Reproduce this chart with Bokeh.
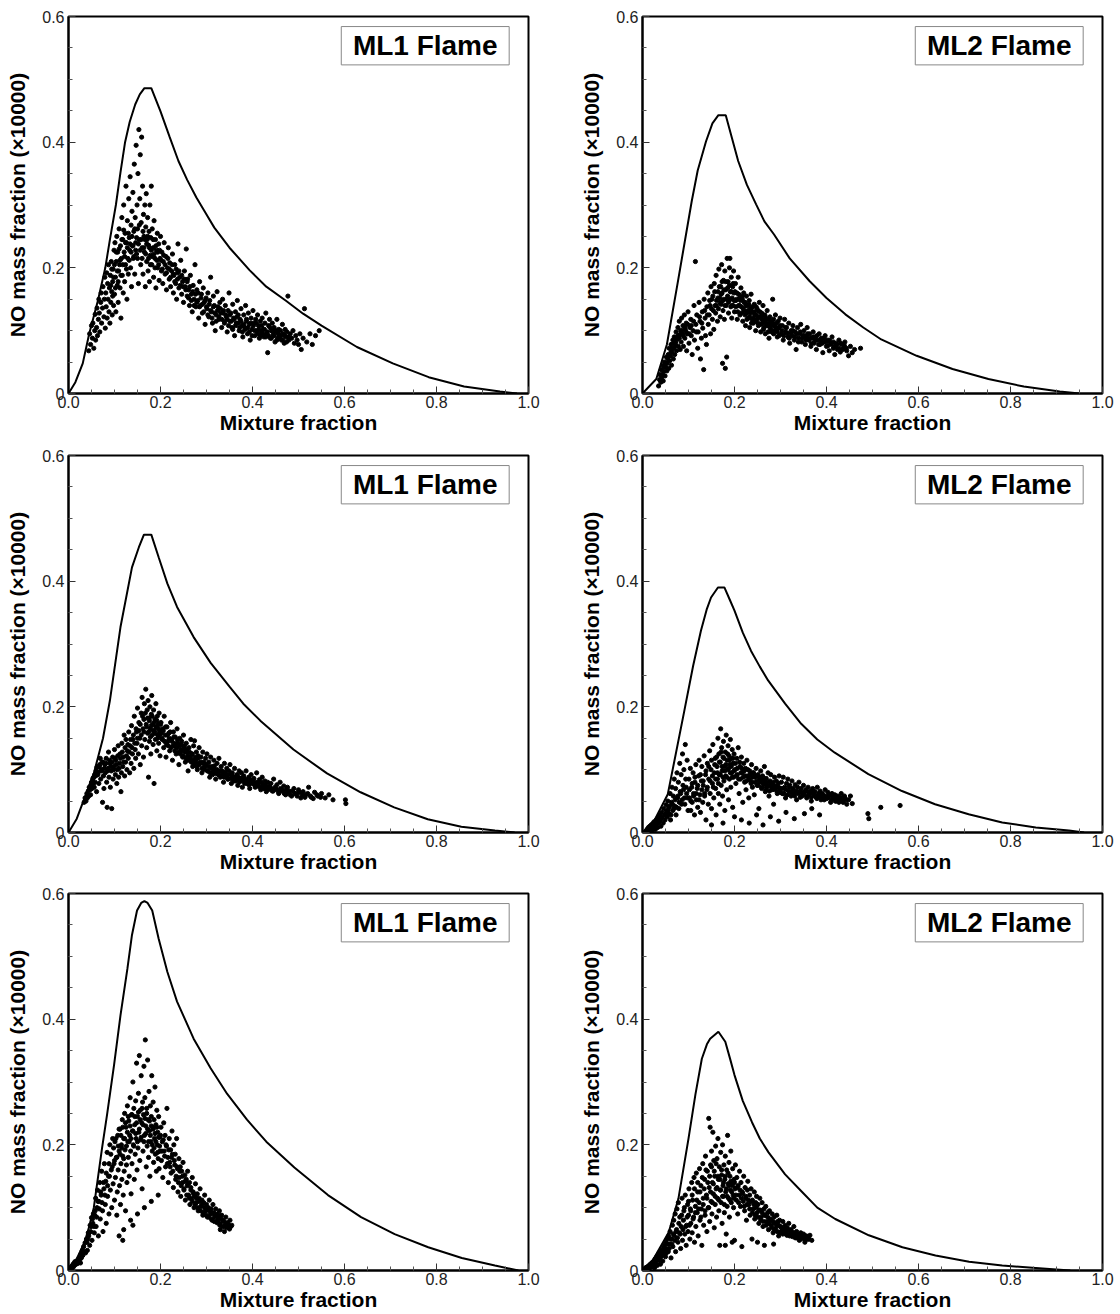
from bokeh.plotting import figure
from bokeh.layouts import column, row
from bokeh.models import Range1d, FixedTicker, BoxAnnotation, Label
from bokeh.embed import file_html
from bokeh.resources import INLINE

FONT = "Liberation Sans"

X_TICKS = [0.0, 0.2, 0.4, 0.6, 0.8, 1.0]
X_TICK_LABELS = ["0.0", "0.2", "0.4", "0.6", "0.8", "1.0"]
X_MINOR = [0.05, 0.1, 0.15, 0.25, 0.3, 0.35, 0.45, 0.5, 0.55, 0.65, 0.7, 0.75, 0.85, 0.9, 0.95]
Y_TICKS = [0.0, 0.2, 0.4, 0.6]
Y_TICK_LABELS = ["0", "0.2", "0.4", "0.6"]
Y_MINOR = [0.05, 0.1, 0.15, 0.25, 0.3, 0.35, 0.45, 0.5, 0.55]

X_LABEL = "Mixture fraction"
Y_LABEL = "NO mass fraction (\u00d710000)"

# ---------------- Row 1, left: ML1 Flame ----------------
curve1_z = [0, 0.015, 0.031, 0.045, 0.064, 0.08, 0.09, 0.103, 0.113, 0.123, 0.133, 0.145, 0.155, 0.165, 0.18,
            0.2, 0.22, 0.239, 0.258, 0.278, 0.3, 0.317, 0.35, 0.394, 0.43, 0.472, 0.51, 0.55, 0.627, 0.705,
            0.783, 0.86, 0.938, 0.975]
curve1_no = [0, 0.018, 0.048, 0.095, 0.148, 0.2, 0.245, 0.3, 0.352, 0.4, 0.432, 0.46, 0.476, 0.486, 0.486,
             0.449, 0.408, 0.37, 0.34, 0.312, 0.285, 0.264, 0.232, 0.196, 0.17, 0.148, 0.127, 0.108, 0.074, 0.048,
             0.026, 0.011, 0.003, 0.0]
# scatter (mixture fraction, NO) in thousandths
scatter1 = [
    (44,68),(46,95),(48,78),(50,108),(52,88),(53,112),(55,72),(57,100),(58,126),(59,85),
    (61,105),(62,136),(63,92),(65,118),(66,150),(67,128),(68,98),(70,145),(71,160),(72,112),(74,136),(75,170),(77,122),(78,150),(79,185),
    (80,104),(81,160),(82,138),(83,192),(84,120),(85,175),(86,150),(87,205),(88,130),(89,168),(90,112),(91,188),(92,145),(93,210),(94,162),(95,125),(96,178),(97,198),(98,140),(99,228),
    (100,158),(101,240),(102,185),(103,130),(104,210),(105,250),(106,172),(107,225),(108,145),(109,195),(110,262),(111,205),(112,168),(113,235),(114,120),(115,215),(116,280),(117,188),(118,245),(119,160),
    (120,300),(121,225),(122,178),(123,255),(124,205),(125,330),(126,240),(127,150),(128,275),(129,215),(130,190),(131,310),(132,248),(133,228),(134,345),(135,200),(136,268),(137,170),(138,290),(139,235),
    (140,320),(141,215),(142,258),(143,365),(144,190),(145,280),(146,240),(147,395),(148,222),(149,300),(150,262),(151,350),(152,175),(153,420),(154,245),(155,310),(156,380),(157,205),(158,272),(159,408),(160,232),
    (161,330),(162,190),(163,285),(164,250),(165,225),(166,300),(167,170),(168,265),(169,318),(170,210),(171,245),(172,280),(173,195),(174,236),(175,258),(176,178),(177,300),(178,220),(179,248),
    (180,330),(181,205),(182,262),(184,232),(185,185),(186,275),(188,215),(189,245),(190,168),(191,228),(193,255),(194,200),(196,238),(197,180),(199,215),
    (200,250),(202,195),(203,225),(205,175),(206,210),(208,240),(210,190),(212,218),(213,165),(215,200),(217,232),(219,182),(220,208),(222,170),(224,195),(226,222),(228,160),(229,188),
    (231,205),(233,175),(235,150),(237,192),(238,238),(240,168),(242,185),(244,212),(246,158),(248,178),(250,145),(252,195),(254,170),(256,230),(258,155),(259,182),
    (261,165),(263,140),(265,188),(267,158),(269,130),(271,172),(273,150),(275,205),(277,138),(279,165),(281,148),(283,120),(285,178),(287,140),(289,158),(291,128),(293,168),(295,145),(297,110),(299,152),
    (301,135),(303,160),(305,122),(307,148),(309,185),(311,130),(313,112),(315,155),(317,140),(319,100),(321,125),(323,162),(325,138),(327,118),(329,145),(331,128),(333,105),(335,150),(337,132),(339,115),
    (341,140),(343,122),(345,98),(347,132),(349,160),(351,115),(353,128),(355,105),(357,142),(359,120),(361,92),(363,130),(365,112),(367,148),(369,125),(371,100),(373,118),(375,135),(377,108),(379,90),
    (381,125),(383,105),(385,140),(387,115),(389,95),(391,128),(393,110),(395,85),(397,120),(399,102),(401,132),(403,112),(405,92),(407,118),(409,100),(411,125),(413,108),(415,88),(417,115),(419,98),
    (421,120),(423,102),(425,90),(427,112),(429,128),(431,95),(433,65),(435,108),(437,118),(439,88),(441,100),(443,112),(445,92),(447,105),(449,82),(451,98),(453,118),(455,88),(457,102),(459,92),
    (461,100),(463,85),(465,110),(467,95),(469,80),(471,102),(473,90),(475,98),(477,155),(479,85),(482,95),(485,88),(488,100),(491,80),(494,92),(497,85),(500,78),(503,95),(506,70),(510,88),(513,135),(518,82),(525,95),(530,78),(537,92),(545,100),
]
scatter1_core = [
    (92,172),(94,198),(96,155),(98,185),(100,205),(102,168),(104,225),(106,195),(108,178),(110,230),(112,212),(114,188),(116,245),(118,205),(120,260),(122,218),(124,240),(126,198),(128,232),(130,255),(132,212),(134,238),(136,225),(138,250),(140,235),(142,218),(144,262),(146,228),(148,248),(150,215),(152,238),(154,268),(156,228),(158,245),(160,215),(162,258),(164,232),(166,245),(168,222),(170,238),(172,250),(174,215),(176,232),(178,205),(180,228),(182,218),(184,245),(186,222),(188,200),(190,235),(192,212),(194,225),(196,205),(198,228),
    (201,212),(204,198),(207,220),(210,205),(213,192),(216,215),(219,198),(222,185),(225,205),(228,190),(231,178),(234,198),(237,182),(240,195),(243,172),(246,188),(249,170),(252,182),(255,165),(258,178),(261,152),(264,170),(267,148),(270,162),(273,140),(276,158),(279,145),(282,160),(285,138),(288,152),(291,142),(294,130),(297,148),(300,138),(303,125),(306,142),(309,132),(312,120),(315,138),(318,128),(321,115),(324,132),(327,122),(330,135),(333,118),(336,128),(339,112),(342,125),(345,118),(348,108),(351,125),(354,115),(357,102),(360,118),(363,108),(366,122),(369,112),(372,105),(375,115),(378,98),(381,110),(384,102),(387,118),(390,105),(393,98),(396,112),(399,92),(402,108),(405,100),(408,112),(411,95),(414,102),(417,92),(420,108),(423,95),(426,102),(429,90),(432,98),(435,92),(438,105),(441,88),(444,98),(447,92),(450,100),(453,85),(456,95),(459,88),(462,92),(466,85),(470,92),(474,82),(478,90),
]

# ---------------- Row 1, right: ML2 Flame ----------------
curve2_z = [0, 0.03, 0.053, 0.076, 0.107, 0.12, 0.138, 0.152, 0.165, 0.181, 0.195, 0.208, 0.227, 0.247, 0.265,
            0.286, 0.32, 0.363, 0.4, 0.441, 0.48, 0.519, 0.596, 0.674, 0.752, 0.829, 0.907, 0.95]
curve2_no = [0, 0.023, 0.078, 0.174, 0.306, 0.355, 0.401, 0.43, 0.443, 0.443, 0.405, 0.37, 0.332, 0.301, 0.274,
             0.253, 0.215, 0.179, 0.152, 0.126, 0.105, 0.086, 0.06, 0.039, 0.023, 0.011, 0.003, 0.0]
scatter2 = [
    (35,12),(37,22),(38,30),(40,18),(41,38),(42,26),(44,45),(45,20),(46,35),(48,50),(49,28),(50,42),(52,58),(53,36),(54,48),(56,62),(57,40),(58,72),(59,52),(61,60),(62,78),(63,45),(64,66),(66,85),(67,55),(68,72),(69,90),(70,62),(72,80),(73,98),(74,68),(75,88),(77,105),(78,75),(79,92),(80,115),(82,70),(83,100),(84,82),(85,120),(87,95),(88,108),(89,75),(91,125),(92,88),(93,102),(95,112),(96,68),(98,95),(99,130),
    (101,80),(103,105),(105,118),(106,92),(108,62),(110,100),(112,140),(113,85),(115,210),(116,110),(118,125),(120,72),(121,98),(123,145),(125,115),(126,55),(128,88),(130,130),(131,104),(133,38),(134,150),(136,120),(137,92),(139,78),(140,138),(142,160),(143,110),(145,125),(146,148),(148,95),(149,170),(150,135),(152,118),(153,155),(155,102),(156,175),(158,140),(159,128),(160,188),(161,148),(163,115),(164,162),(165,135),(166,198),(168,152),(169,122),(170,170),(171,142),(172,205),(173,160),(174,48),(175,132),(176,180),(177,150),(178,118),(179,195),(180,40),(181,165),(182,140),(183,58),(184,215),(185,155),(186,178),(187,128),(188,148),(189,200),(190,215),(191,162),(192,138),(193,185),(194,120),(195,152),(196,170),(197,140),(198,195),(199,160),
    (200,130),(202,175),(203,148),(205,160),(206,118),(208,185),(209,140),(211,152),(212,125),(214,168),(215,138),(217,150),(218,115),(220,160),(221,132),(223,145),(224,108),(226,155),(227,128),(229,140),(230,120),(232,148),(233,105),(235,135),(236,158),(238,118),(239,130),(241,112),(243,142),(244,125),(246,100),(247,138),(249,118),(251,132),(252,108),(254,145),(256,122),(257,98),(259,128),(261,112),(262,140),(264,105),(266,125),(267,95),(269,118),(271,132),(273,108),(275,88),(277,122),(279,102),(281,115),(283,150),(285,95),(287,110),(289,125),(291,100),(293,90),(295,115),(297,105),(299,120),
    (302,95),(304,108),(306,85),(309,118),(311,98),(313,105),(316,90),(318,112),(320,80),(323,100),(325,92),(327,108),(330,85),(332,98),(334,70),(337,105),(339,88),(342,95),(344,110),(346,82),(349,92),(351,100),(354,78),(356,90),(358,105),(361,85),(363,95),(366,75),(368,88),(371,98),(373,80),(376,90),(378,70),(381,85),(384,95),(386,78),(389,88),(392,65),(394,82),(397,92),(400,75),(403,85),(406,68),(409,80),(412,90),(415,72),(418,62),(421,80),(424,70),(427,85),(430,66),(433,78),(437,72),(440,82),(444,68),(448,60),(452,75),(456,65),(461,70),(474,72),
]
scatter2_core = [
    (43,30),(47,42),(51,48),(55,55),(58,60),(62,66),(65,72),(68,80),(71,76),(74,85),(77,92),(80,88),(83,95),(86,100),(89,92),(92,105),(95,98),(98,110),(102,95),(106,108),(111,115),(117,98),(124,122),(129,112),(135,132),(141,125),(147,140),(151,150),(154,132),(157,162),(161,140),(164,152),(167,170),(169,145),(171,158),(173,178),(175,148),(177,165),(179,140),(181,178),(183,150),(185,168),(187,145),(189,172),(191,150),(193,162),(195,140),(197,175),(199,148),(201,162),(203,138),(205,150),(207,130),(209,158),(211,140),(213,148),(215,128),(217,155),(219,135),(221,145),(223,125),(225,140),(227,118),(229,132),(231,142),(233,122),(235,128),(237,112),(239,138),(241,120),(243,130),(245,115),(247,125),(249,135),(251,112),(253,122),(255,130),(257,110),(259,118),(261,125),(263,102),(265,115),(267,122),(269,108),(271,112),(273,98),(275,118),(277,105),(279,112),(281,98),(283,108),(285,118),(287,100),(289,106),(291,112),(293,98),(295,104),(297,92),(299,108),(303,100),(307,92),(311,105),(315,96),(319,88),(323,95),(327,100),(331,90),(335,95),(339,82),(343,98),(347,88),(351,92),(355,85),(359,95),(363,88),(367,80),(371,90),(375,84),(379,92),(383,78),(387,85),(391,80),(395,88),(399,82),(403,76),(407,84),(411,78),(415,82),(419,75),(423,78),(427,72),(431,80),(435,70),(439,76),(443,72),
]

# ---------------- Row 2, left: ML1 Flame ----------------
curve3_z = [0, 0.018, 0.035, 0.055, 0.075, 0.09, 0.113, 0.138, 0.153, 0.164, 0.18, 0.196, 0.215, 0.236, 0.272,
            0.309, 0.35, 0.38, 0.417, 0.489, 0.562, 0.635, 0.708, 0.781, 0.854, 0.927, 0.97]
curve3_no = [0, 0.022, 0.055, 0.094, 0.15, 0.21, 0.327, 0.422, 0.454, 0.474, 0.474, 0.438, 0.396, 0.359, 0.311,
             0.27, 0.232, 0.205, 0.178, 0.132, 0.094, 0.064, 0.04, 0.021, 0.009, 0.003, 0.0]
scatter3 = [
    (34,48),(36,55),(38,50),(40,62),(41,55),(43,66),(44,58),(45,72),(47,68),(48,60),(50,80),(51,70),(53,86),(54,78),(56,72),(57,92),(58,80),(60,98),(61,65),(63,105),(64,92),(66,78),(67,105),(69,118),(70,85),(72,98),(73,112),(74,48),(76,90),(77,70),(79,108),(80,95),(82,118),(83,80),(84,40),(86,102),(87,128),(88,88),(90,110),(91,72),(93,98),(94,38),(96,120),(97,85),(99,105),
    (100,132),(102,92),(103,115),(105,78),(106,100),(108,138),(109,88),(111,110),(112,125),(114,65),(115,95),(116,142),(118,105),(119,120),(121,155),(122,90),(124,112),(125,148),(127,100),(128,130),(130,118),(131,160),(133,95),(134,138),(136,110),(137,170),(139,125),(140,148),(142,102),(143,185),(145,132),(146,118),(148,160),(149,142),(150,198),(152,125),(153,175),(155,150),(156,108),(158,190),(159,138),(160,215),(162,165),(163,120),(164,180),(165,205),(166,148),(168,228),(169,172),(170,135),(171,195),(172,158),(173,210),(174,88),(175,182),(176,145),(177,200),(178,165),(179,125),(180,188),(181,218),(182,155),(183,172),(184,140),(185,195),(186,78),(187,162),(188,180),(189,148),(190,205),(191,168),(192,130),(193,185),(194,155),(195,172),(196,142),(197,190),(198,160),(199,122),
    (201,175),(203,150),(205,165),(207,135),(208,185),(210,155),(212,120),(214,168),(216,145),(218,158),(220,130),(222,175),(224,148),(226,115),(228,160),(230,138),(232,152),(234,125),(236,165),(238,142),(240,108),(242,150),(244,132),(246,145),(248,120),(250,155),(252,138),(254,112),(256,142),(258,128),(260,98),(262,135),(264,118),(266,148),(268,125),(270,105),(272,138),(274,146),(276,115),(278,128),(280,100),(282,122),(284,135),(286,110),(288,120),(290,95),(292,128),(294,112),(296,105),(298,118),
    (301,125),(303,98),(305,112),(307,88),(309,120),(311,105),(313,92),(316,115),(318,100),(320,85),(323,110),(325,95),(327,118),(330,88),(332,105),(334,98),(337,80),(339,110),(342,92),(344,102),(346,85),(349,98),(351,108),(354,78),(356,95),(358,88),(361,102),(363,82),(366,92),(368,75),(371,98),(373,86),(376,95),(378,72),(381,90),(384,82),(386,98),(389,78),(392,88),(394,70),(397,92),(400,80),(403,86),(406,72),(409,95),(412,78),(415,84),(418,68),(421,88),(424,76),(427,82),(430,65),(433,80),(436,72),(440,78),(443,66),(446,85),(450,70),(453,76),(457,62),(460,80),(464,68),(468,74),(472,60),(476,72),(480,66),(485,58),(490,70),(495,62),(500,68),(505,55),(510,65),(516,60),(522,72),(528,56),(535,64),(542,58),(550,62),(558,55),(566,60),(575,52),(602,52),(603,46),
]
scatter3_core = [
    (46,70),(49,76),(52,82),(55,88),(59,90),(62,104),(65,96),(68,108),(71,100),(75,112),(78,102),(81,110),(85,98),(89,115),(92,105),(95,112),(98,100),(101,118),(104,108),(107,122),(110,102),(113,118),(117,128),(120,112),(123,135),(126,122),(129,140),(132,128),(135,148),(138,135),(141,155),(144,142),(147,165),(150,150),(153,162),(156,172),(158,155),(161,185),(164,160),(167,190),(170,168),(172,182),(174,160),(176,178),(178,152),(180,170),(182,185),(184,162),(186,175),(188,158),(190,168),(192,178),(194,150),(196,165),(198,155),(200,172),(202,158),(204,148),(206,162),(209,145),(211,168),(213,140),(215,155),(217,138),(219,150),(221,160),(223,135),(225,145),(227,138),(229,152),(231,130),(233,142),(235,135),(237,148),(239,128),(241,138),(243,125),(245,140),(247,130),(249,122),(251,135),(253,128),(255,118),(257,132),(259,122),(261,115),(263,128),(265,120),(267,112),(269,125),(271,115),(273,108),(275,120),(277,112),(279,105),(281,118),(284,108),(287,112),(290,102),(293,110),(296,100),(299,108),(302,98),(305,105),(308,95),(311,102),(314,96),(317,106),(320,94),(323,100),(326,92),(329,98),(332,90),(335,95),(338,88),(341,96),(344,90),(347,85),(350,92),(353,86),(356,90),(359,82),(362,88),(365,84),(368,90),(371,80),(374,86),(377,82),(380,88),(383,78),(386,84),(389,80),(392,76),(395,84),(398,78),(401,82),(404,76),(407,80),(410,74),(413,78),(416,72),(419,80),(422,74),(425,70),(428,76),(431,72),(434,68),(437,74),(441,70),(445,66),(449,72),(453,68),(457,64),(461,70),(465,66),(469,62),(473,68),(477,64),(482,60),(487,66),(492,62),(497,58),(502,64),(508,60),(514,56),(520,62),(526,58),(532,54),(540,60),(548,56),
]

# ---------------- Row 2, right: ML2 Flame ----------------
curve4_z = [0, 0.025, 0.055, 0.091, 0.11, 0.127, 0.14, 0.149, 0.164, 0.178, 0.19, 0.2, 0.218, 0.236, 0.255,
            0.273, 0.31, 0.345, 0.38, 0.418, 0.491, 0.564, 0.636, 0.709, 0.782, 0.855, 0.927, 0.96]
curve4_no = [0, 0.018, 0.061, 0.194, 0.265, 0.321, 0.356, 0.374, 0.39, 0.39, 0.37, 0.353, 0.318, 0.289, 0.264,
             0.242, 0.205, 0.173, 0.148, 0.127, 0.093, 0.066, 0.045, 0.029, 0.016, 0.008, 0.003, 0.0]
scatter4 = [
    (8,2),(10,5),(12,3),(13,8),(15,4),(16,10),(18,6),(19,12),(21,3),(22,14),(24,8),(25,17),(27,11),(28,5),(30,20),(31,14),(33,8),(34,24),(36,16),(37,28),(39,20),(40,10),(42,32),(43,24),(45,15),(46,38),(48,28),(49,20),(51,44),(52,34),(54,25),(55,50),(57,40),(58,30),(60,62),(61,20),(63,48),(64,72),(66,35),(67,58),(69,85),(70,42),(72,70),(73,28),(75,95),(76,55),(78,80),(79,38),(81,110),(82,65),(84,92),(85,45),(87,125),(88,75),(90,100),(91,55),(93,140),(94,85),(96,62),(97,115),(99,35),
    (101,85),(102,55),(104,102),(105,35),(107,72),(108,48),(110,95),(111,62),(113,28),(114,80),(116,108),(117,52),(119,70),(120,40),(122,90),(123,115),(125,60),(126,32),(128,82),(129,105),(131,48),(132,75),(134,122),(135,58),(137,92),(138,20),(140,68),(141,110),(143,45),(144,85),(146,130),(147,62),(149,100),(150,38),(152,78),(153,140),(155,55),(156,95),(158,118),(159,70),(160,28),(162,105),(163,85),(164,150),(165,62),(166,125),(167,92),(168,45),(169,112),(170,165),(171,75),(172,135),(173,98),(174,58),(175,120),(176,145),(177,82),(178,105),(179,35),(180,128),(181,90),(182,155),(183,68),(184,115),(185,100),(186,138),(187,52),(188,122),(189,85),(190,108),(191,148),(192,72),(193,118),(194,95),(195,132),(196,40),(197,110),(198,88),(199,125),
    (201,100),(203,78),(205,118),(206,92),(208,135),(210,62),(212,105),(213,85),(215,120),(217,95),(218,48),(220,110),(222,80),(224,102),(225,68),(227,115),(229,90),(231,55),(233,98),(235,82),(237,108),(239,72),(241,95),(243,60),(245,88),(247,102),(249,75),(251,92),(253,38),(255,85),(257,98),(259,70),(261,90),(263,78),(265,105),(267,65),(269,86),(271,74),(273,95),(275,58),(277,82),(279,92),(281,68),(283,80),(285,45),(287,88),(289,72),(291,82),(293,62),(295,78),(297,90),(299,70),
    (302,80),(304,62),(306,88),(309,72),(311,55),(313,78),(316,85),(318,66),(320,75),(323,58),(325,82),(327,70),(330,62),(332,76),(335,52),(337,72),(340,80),(342,65),(345,70),(347,58),(350,75),(352,64),(355,68),(357,55),(360,72),(362,62),(365,66),(367,50),(370,70),(372,60),(375,65),(378,56),(380,72),(383,60),(386,66),(388,52),(391,62),(394,58),(397,68),(400,54),(403,64),(406,58),(409,48),(412,62),(415,55),(418,60),(421,50),(424,58),(428,52),(432,62),(436,48),(440,55),(444,45),(448,52),(452,58),(456,46),(490,30),(492,22),(518,40),(560,43),
    (150,12),(175,15),(200,25),(215,20),(232,15),(248,28),(262,12),(278,25),(296,18),(312,32),(330,22),(352,30),(368,38),(385,28),
]
scatter4_core = [
    (52,30),(56,36),(59,42),(62,28),(65,45),(68,38),(71,52),(74,40),(77,58),(80,48),(83,62),(86,52),(89,68),(92,45),(95,72),(98,55),(102,68),(105,50),(108,78),(111,58),(114,88),(117,62),(120,75),(123,52),(126,92),(129,68),(132,82),(135,62),(138,98),(141,72),(144,105),(147,82),(150,115),(152,90),(154,72),(157,108),(159,85),(161,120),(163,95),(165,78),(167,112),(169,92),(171,128),(173,105),(175,88),(177,118),(179,98),(181,108),(183,88),(185,125),(187,102),(189,115),(191,95),(193,105),(195,88),(197,118),(199,98),(202,110),(204,90),(206,102),(209,85),(211,112),(214,95),(216,102),(219,88),(221,98),(224,90),(226,82),(229,100),(231,85),(234,92),(236,78),(239,88),(241,95),(244,80),(246,90),(249,82),(251,75),(254,88),(256,80),(259,72),(261,84),(264,76),(266,82),(269,70),(271,80),(274,74),(276,66),(279,78),(281,72),(284,76),(287,68),(290,74),(293,66),(296,72),(299,64),(303,70),(307,62),(311,68),(315,60),(319,72),(323,64),(327,68),(331,58),(335,66),(339,62),(343,56),(347,64),(351,60),(355,66),(359,58),(363,62),(367,56),(371,64),(375,58),(379,54),(383,62),(387,56),(391,60),(395,52),(399,58),(403,55),(407,60),(411,52),(415,57),(419,50),(423,56),(427,48),(431,55),(435,50),(439,58),(443,52),
]

# ---------------- Row 3, left: ML1 Flame ----------------
curve5_z = [0, 0.018, 0.035, 0.045, 0.055, 0.073, 0.084, 0.099, 0.113, 0.128, 0.138, 0.149, 0.158, 0.165, 0.172,
            0.182, 0.196, 0.215, 0.236, 0.272, 0.309, 0.345, 0.388, 0.43, 0.491, 0.564, 0.636, 0.709, 0.782,
            0.855, 0.927, 0.978]
curve5_no = [0, 0.019, 0.045, 0.07, 0.1, 0.195, 0.249, 0.327, 0.406, 0.48, 0.534, 0.573, 0.585, 0.588, 0.585,
             0.573, 0.528, 0.475, 0.428, 0.369, 0.322, 0.281, 0.24, 0.205, 0.164, 0.12, 0.085, 0.058, 0.037,
             0.02, 0.008, 0.0]
scatter5 = [
    (3,2),(5,5),(7,3),(8,8),(10,5),(11,11),(13,8),(14,14),(16,10),(17,13),(19,11),(20,16),(21,12),(23,20),(24,16),(26,12),(27,26),(28,20),(30,32),(31,24),(33,38),(34,30),(36,44),(37,28),(39,50),(40,45),(41,32),(43,60),(44,55),(46,40),(47,72),(48,62),(50,84),(51,48),(53,75),(54,90),(56,60),(57,88),(59,115),(60,70),(62,100),(63,128),(65,55),(66,110),(68,140),(69,82),(71,120),(72,158),(74,95),(75,62),(77,130),(78,170),(80,105),(81,142),(82,75),(84,188),(85,118),(87,150),(88,90),(90,200),(91,128),(93,160),(94,100),(96,210),(97,138),(99,170),
    (100,112),(101,205),(102,148),(104,180),(105,88),(106,125),(107,215),(108,160),(110,190),(111,135),(112,225),(113,105),(114,170),(115,200),(116,145),(117,240),(118,182),(119,120),(120,210),(121,158),(122,250),(123,192),(124,95),(125,228),(126,168),(127,140),(128,262),(129,205),(130,180),(131,238),(132,150),(133,215),(134,275),(135,190),(136,122),(137,248),(138,170),(139,222),(140,300),(141,200),(142,258),(143,145),(144,232),(145,185),(146,270),(147,210),(148,330),(149,160),(150,245),(151,195),(152,282),(153,220),(154,342),(155,175),(156,255),(157,208),(158,310),(159,235),(160,130),(161,268),(162,190),(163,248),(164,325),(165,215),(166,275),(167,367),(168,230),(169,165),(170,258),(171,198),(172,335),(173,240),(174,180),(175,285),(176,222),(177,150),(178,262),(179,205),(180,245),(181,310),(182,190),(183,228),(184,268),(185,172),(186,240),(187,210),(188,292),(189,185),(190,232),(191,158),(192,255),(193,200),(194,220),(195,178),(196,245),(197,162),(198,212),(199,190),
    (201,228),(202,175),(204,205),(205,148),(207,235),(208,190),(210,215),(211,165),(213,198),(214,258),(216,180),(217,140),(219,210),(220,172),(222,192),(223,155),(225,222),(226,185),(228,132),(229,200),(231,168),(232,185),(234,150),(235,210),(237,162),(238,125),(240,178),(241,148),(243,165),(244,118),(246,158),(248,140),(249,172),(251,130),(253,152),(254,112),(256,145),(258,135),(259,158),(261,120),(263,140),(264,105),(266,132),(268,115),(269,148),(271,125),(273,100),(275,118),(276,138),(278,108),(280,122),(282,95),(284,115),(286,130),(288,102),(290,112),(292,88),(294,108),(296,120),(298,95),
    (300,105),(302,85),(304,100),(306,112),(308,90),(310,98),(312,80),(314,105),(316,92),(318,85),(320,98),(322,78),(324,90),(326,82),(328,95),(330,75),(333,88),(336,80),(339,70),(342,85),(345,76),(348,68),(351,80),(355,72),(339,62),(330,65),
    (110,55),(120,65),(135,80),(150,90),(165,100),(180,110),(195,120),(118,48),(140,72),
]
scatter5_core = [
    (42,50),(45,60),(49,70),(52,82),(55,70),(58,95),(61,85),(64,110),(67,98),(70,125),(73,108),(76,140),(79,120),(82,155),(85,135),(88,170),(89,150),(92,185),(95,165),(98,195),(100,175),(103,210),(105,180),(108,198),(110,225),(112,185),(114,215),(116,195),(118,228),(120,178),(122,210),(124,235),(126,198),(128,220),(130,245),(132,205),(134,230),(136,210),(138,248),(140,222),(142,198),(144,245),(146,218),(148,235),(150,205),(152,252),(154,225),(156,240),(158,212),(160,258),(162,232),(164,205),(166,242),(168,218),(170,250),(172,225),(174,205),(176,238),(178,215),(180,230),(182,200),(184,225),(186,195),(188,218),(190,205),(192,228),(194,188),(196,212),(198,198),(200,215),(203,190),(206,208),(209,182),(212,200),(215,170),(218,192),(221,165),(224,180),(227,158),(230,175),(233,145),(236,165),(239,140),(242,158),(245,135),(248,150),(251,128),(254,142),(257,120),(260,138),(263,115),(266,128),(269,110),(272,122),(275,105),(278,115),(281,100),(284,110),(287,95),(290,105),(293,92),(296,100),(299,88),(302,96),(305,85),(308,95),(311,82),(314,90),(317,78),(320,88),(323,76),(326,86),(329,72),(332,82),(335,70),(338,78),(341,72),(344,68),(347,74),(350,66),(353,70),
]

# ---------------- Row 3, right: ML2 Flame ----------------
curve6_z = [0, 0.02, 0.057, 0.078, 0.1, 0.115, 0.129, 0.14, 0.147, 0.165, 0.18, 0.19, 0.2, 0.218, 0.238, 0.255,
            0.274, 0.31, 0.347, 0.38, 0.419, 0.492, 0.565, 0.637, 0.71, 0.782, 0.855, 0.93]
curve6_no = [0, 0.013, 0.061, 0.114, 0.21, 0.28, 0.337, 0.36, 0.369, 0.38, 0.364, 0.338, 0.311, 0.27, 0.236, 0.21,
             0.188, 0.153, 0.125, 0.1, 0.082, 0.056, 0.037, 0.024, 0.014, 0.008, 0.004, 0.0]
scatter6 = [
    (3,1),(5,3),(6,1),(8,5),(9,2),(11,6),(12,3),(14,8),(15,4),(17,10),(18,5),(20,12),(21,7),(23,14),(24,9),(26,4),(27,18),(29,12),(30,21),(32,8),(33,24),(35,16),(36,28),(38,20),(39,10),(41,32),(42,24),(44,15),(45,36),(47,28),(48,40),(50,22),(51,45),(53,34),(54,50),(56,30),(57,55),(59,42),(60,62),(62,20),(63,50),(65,72),(66,38),(68,80),(69,55),(71,90),(72,30),(74,65),(75,98),(77,45),(78,108),(80,60),(81,85),(83,35),(84,70),(86,115),(87,48),(89,80),(90,95),(92,58),(93,120),(95,40),(96,72),(98,105),(99,62),
    (100,88),(101,130),(103,50),(104,98),(105,75),(107,140),(108,60),(109,112),(111,85),(112,148),(113,45),(115,102),(116,70),(117,155),(119,92),(120,125),(121,55),(123,108),(124,162),(125,80),(127,135),(128,98),(129,40),(131,170),(132,115),(133,72),(135,145),(136,88),(137,182),(139,120),(140,62),(141,158),(143,100),(144,242),(145,132),(146,78),(147,228),(148,168),(149,110),(150,190),(151,90),(152,140),(153,220),(154,122),(155,175),(156,68),(157,150),(158,105),(159,198),(160,130),(161,85),(162,178),(163,115),(164,210),(165,145),(166,95),(167,165),(168,40),(169,128),(170,188),(171,108),(172,152),(173,75),(174,200),(175,135),(176,118),(177,168),(178,92),(179,145),(180,182),(181,125),(182,58),(183,160),(184,102),(185,215),(186,138),(187,115),(188,172),(189,85),(190,150),(191,128),(192,190),(193,108),(194,140),(195,45),(196,162),(197,120),(198,100),(199,145),
    (201,130),(202,168),(204,112),(205,148),(207,90),(208,135),(210,120),(211,158),(213,102),(214,140),(216,38),(217,125),(219,110),(220,150),(222,95),(223,132),(225,115),(226,80),(228,128),(229,142),(231,105),(233,120),(234,88),(236,130),(238,50),(239,112),(241,98),(243,125),(244,82),(246,108),(248,118),(249,92),(251,105),(253,75),(255,115),(256,96),(258,85),(260,108),(262,70),(264,98),(266,88),(268,102),(270,78),(272,92),(274,65),(276,95),(278,82),(280,72),(282,90),(284,60),(286,85),(288,75),(290,68),(292,88),(294,78),(296,55),(298,80),
    (300,70),(302,62),(305,78),(307,66),(310,72),(312,58),(315,68),(318,75),(320,55),(323,65),(326,60),(329,70),(332,52),(335,62),(338,56),(341,48),(344,60),(347,52),(350,58),(353,45),(356,55),(360,50),(364,56),(368,48),(250,45),(265,40),(285,42),(200,48),(180,40),
]
scatter6_core = [
    (40,22),(43,30),(46,25),(49,35),(52,28),(55,42),(58,35),(61,50),(64,42),(67,58),(70,48),(73,62),(76,52),(79,75),(82,58),(85,88),(88,65),(91,100),(94,70),(97,85),(100,110),(102,72),(105,95),(108,120),(110,82),(113,130),(115,92),(118,112),(120,140),(122,98),(125,125),(127,85),(130,148),(132,105),(134,130),(136,95),(138,160),(140,115),(142,140),(144,100),(146,150),(148,125),(150,165),(152,108),(154,138),(156,158),(158,118),(160,170),(162,132),(164,150),(166,112),(168,145),(170,128),(172,160),(174,118),(176,140),(178,105),(180,150),(182,130),(184,118),(186,155),(188,135),(190,112),(192,142),(194,125),(196,135),(198,115),(200,140),(203,120),(206,132),(209,108),(212,128),(215,115),(218,122),(221,102),(224,118),(227,105),(230,112),(233,98),(236,110),(239,92),(242,105),(245,88),(248,100),(251,85),(254,96),(257,80),(260,92),(263,78),(266,88),(269,72),(272,85),(275,75),(278,80),(281,68),(284,78),(287,65),(290,75),(293,62),(296,72),(299,60),(302,68),(305,58),(308,66),(311,62),(314,56),(317,64),(320,58),(323,62),(326,54),(329,60),(332,56),(335,52),(338,58),(341,54),(344,50),(347,56),(350,52),(354,48),(358,54),(362,50),
]

PANELS = [
    (curve1_z, curve1_no, scatter1 + scatter1_core, "ML1 Flame"),
    (curve2_z, curve2_no, scatter2 + scatter2_core, "ML2 Flame"),
    (curve3_z, curve3_no, scatter3 + scatter3_core, "ML1 Flame"),
    (curve4_z, curve4_no, scatter4 + scatter4_core, "ML2 Flame"),
    (curve5_z, curve5_no, scatter5 + scatter5_core, "ML1 Flame"),
    (curve6_z, curve6_no, scatter6 + scatter6_core, "ML2 Flame"),
]

ROW_H = [439, 440, 435]
TOP_B = [16, 16, 14]
BOT_B = [46, 47, 44]


def make_panel(idx):
    cz, cno, pts, name = PANELS[idx]
    r, c = divmod(idx, 2)
    p = figure(width=560, height=ROW_H[r],
               x_range=Range1d(0, 1), y_range=Range1d(0, 0.6),
               output_backend="svg", toolbar_location=None,
               min_border_left=68 if c == 0 else 82,
               min_border_right=32 if c == 0 else 18,
               min_border_top=TOP_B[r], min_border_bottom=BOT_B[r],
               background_fill_color="white", border_fill_color="white")
    p.xgrid.grid_line_color = None
    p.ygrid.grid_line_color = None
    p.outline_line_color = "black"
    p.outline_line_width = 2
    p.outline_line_alpha = 1.0

    p.xaxis.ticker = FixedTicker(ticks=X_TICKS, minor_ticks=X_MINOR)
    p.yaxis.ticker = FixedTicker(ticks=Y_TICKS, minor_ticks=Y_MINOR)
    p.xaxis.major_label_overrides = dict(zip(X_TICKS, X_TICK_LABELS))
    p.yaxis.major_label_overrides = dict(zip(Y_TICKS, Y_TICK_LABELS))
    p.xaxis.axis_label = X_LABEL
    p.yaxis.axis_label = Y_LABEL
    for ax in (p.xaxis[0], p.yaxis[0]):
        ax.axis_line_color = "black"
        ax.axis_line_width = 2
        ax.major_tick_in = 7
        ax.major_tick_out = 0
        ax.minor_tick_in = 4
        ax.minor_tick_out = 0
        ax.major_tick_line_color = "#333333"
        ax.minor_tick_line_color = "#555555"
        ax.major_label_text_font = FONT
        ax.major_label_text_font_size = "16px"
        ax.major_label_text_color = "#222222"
        ax.axis_label_text_font = FONT
        ax.axis_label_text_font_style = "bold"
        ax.axis_label_text_font_size = "21px"
        ax.axis_label_text_color = "black"
    p.xaxis.major_label_standoff = 2
    p.xaxis.axis_label_standoff = 0
    p.yaxis.major_label_standoff = 4
    p.yaxis.axis_label_standoff = 10

    p.line([float(v) for v in cz], [float(v) for v in cno], line_width=2, color="black")
    xs = [a / 1000.0 for a, b in pts]
    ys = [b / 1000.0 for a, b in pts]
    p.scatter(xs, ys, marker="circle", size=4.2, color="black")

    box = BoxAnnotation(left=0.593, right=0.958, bottom=0.523, top=0.584,
                        fill_color="white", fill_alpha=1.0,
                        line_color="#888888", line_width=1, line_alpha=1.0)
    p.add_layout(box)
    p.add_layout(Label(x=0.7755, y=0.5535, text=name, text_align="center",
                       text_baseline="middle", text_font=FONT,
                       text_font_style="bold", text_font_size="28px",
                       text_color="black"))
    return p


figs = [make_panel(i) for i in range(6)]
layout = column(row(figs[0], figs[1]), row(figs[2], figs[3]), row(figs[4], figs[5]))

with open("out.html", "w") as f:
    f.write(file_html(layout, INLINE, title="NO mass fraction vs mixture fraction"))
